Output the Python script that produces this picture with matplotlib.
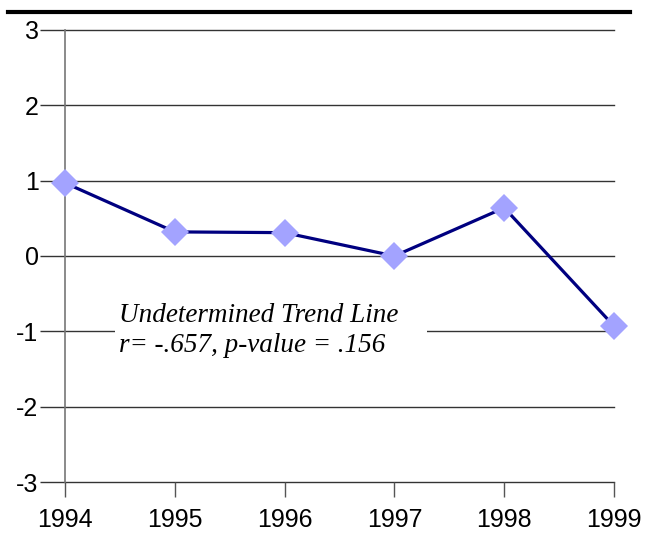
import matplotlib
matplotlib.use('Agg')
import matplotlib.pyplot as plt
from matplotlib.lines import Line2D

years = ['1994', '1995', '1996', '1997', '1998', '1999']
values = [0.97, 0.32, 0.31, 0.0, 0.64, -0.93]
y_ticks = [-3, -2, -1, 0, 1, 2, 3]
note_lines = ['Undetermined Trend Line', 'r= -.657, p-value = .156']

plt.rcParams['font.family'] = ['Liberation Sans', 'DejaVu Sans']

fig = plt.figure(figsize=(6.55, 5.33), dpi=100)
ax = fig.add_axes([65 / 655, 1 - 482 / 533, (614 - 65) / 655, (482 - 30) / 533])

xs = list(range(len(years)))
for t in y_ticks:
    ax.axhline(t, color='#333333', lw=1.0, zorder=1, clip_on=False)

ax.plot(xs, values, color='#000080', lw=2.3, zorder=3, clip_on=False)
ax.plot(xs, values, ls='none', marker='D', markersize=14, color='#a3a3ff',
        markeredgewidth=0, zorder=4, clip_on=False)

ax.set_xlim(0, len(years) - 1)
ax.set_ylim(-3, 3)
ax.set_xticks(xs)
ax.set_xticklabels(years, fontsize=18)
ax.set_yticks(y_ticks)
ax.set_yticklabels([str(t) for t in y_ticks], fontsize=18)
ax.tick_params(axis='y', length=18, width=1.0, color='#333333', pad=1)
ax.tick_params(axis='x', length=11, width=1.0, color='#555555', pad=8)

for s in ['top', 'right', 'bottom']:
    ax.spines[s].set_visible(False)
ax.spines['left'].set_color('#777777')
ax.spines['left'].set_linewidth(1.2)

# white box behind the note, a bit wider than the text like the original
ax.axvspan(0.455, 3.3, ymin=(-1.23 + 3) / 6, ymax=(-0.77 + 3) / 6,
           color='white', lw=0, zorder=2)
ax.text(0.49, -0.99, '\n'.join(note_lines), fontsize=19.5, family='Liberation Serif',
        style='italic', ha='left', va='center', linespacing=1.3, zorder=5)

fig.add_artist(Line2D([8 / 655, 630 / 655], [1 - 12 / 533, 1 - 12 / 533],
                      color='black', lw=3, transform=fig.transFigure))

fig.savefig('out.png', dpi=100)
